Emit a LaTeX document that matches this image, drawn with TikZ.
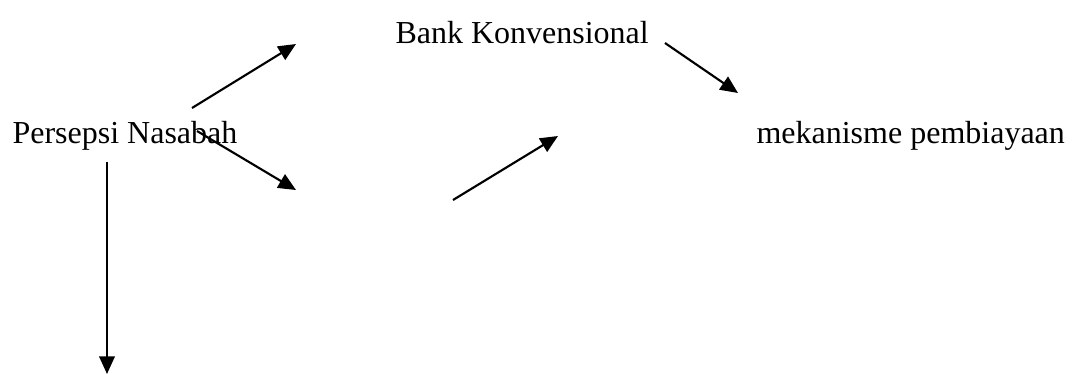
\documentclass[tikz,border=0pt]{standalone}
\usepackage{fontspec}
\setmainfont{Liberation Serif}
\usetikzlibrary{arrows.meta}

\begin{document}
\begin{tikzpicture}[x=0.375pt,y=-0.375pt,
    labeltext/.style={anchor=base west,inner sep=0pt,font=\fontsize{12}{14}\selectfont},
    flowarrow/.style={line width=0.8pt,-{Triangle[length=6.6pt,width=5.8pt]}}]
            \useasboundingbox (0,0) rectangle (1072,374);

            % Marking labels
            \node [labeltext] (persepsi) at (12,143) {Persepsi Nasabah};%
            \node [labeltext] (konven) at (395,43) {Bank Konvensional};%
            \node [labeltext] (mekanisme) at (756,143) {mekanisme pembiayaan};%

            % Arrow end points
            \coordinate (upA) at (192,108);%
            \coordinate (upB) at (296,44);%
            \coordinate (downA) at (197,131);%
            \coordinate (downB) at (296,190);%
            \coordinate (midA) at (453,200);%
            \coordinate (midB) at (558,136);%
            \coordinate (rightA) at (665,43);%
            \coordinate (rightB) at (738,93);%
            \coordinate (vertA) at (107,162);%
            \coordinate (vertB) at (107,374);%

            % Drawing arrows
            \draw [flowarrow] (upA) -- (upB);%
            \draw [flowarrow] (downA) -- (downB);%
            \draw [flowarrow] (midA) -- (midB);%
            \draw [flowarrow] (rightA) -- (rightB);%
            \draw [flowarrow] (vertA) -- (vertB);%
        \end{tikzpicture}
\end{document}
